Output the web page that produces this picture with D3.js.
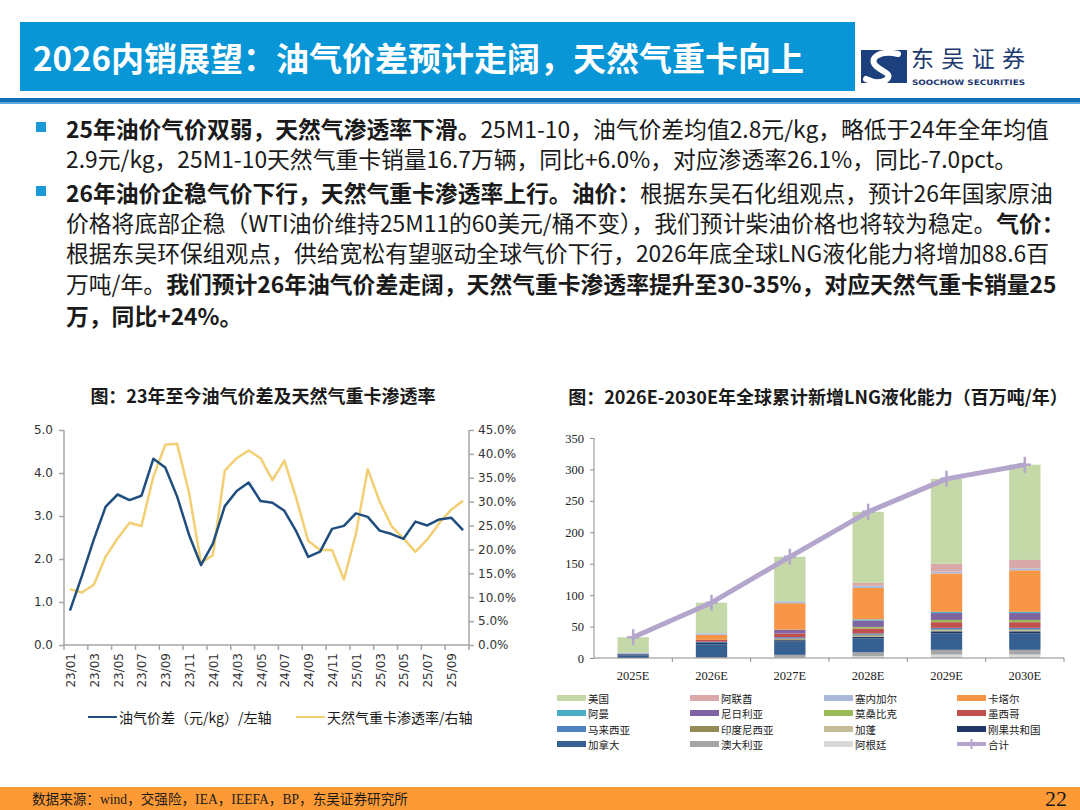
<!DOCTYPE html>
<html>
<head>
<meta charset="utf-8">
<title>2026内销展望</title>
<style>
  body { margin: 0; background: #fff; }
  svg { display: block; }
</style>
</head>
<body>
<script src="https://d3js.org/d3.v7.min.js"></script>
<script>
// ---- left chart: oil-gas price spread & gas heavy truck penetration ----
const months = ["23/01","23/02","23/03","23/04","23/05","23/06","23/07","23/08","23/09","23/10","23/11","23/12",
                "24/01","24/02","24/03","24/04","24/05","24/06","24/07","24/08","24/09","24/10","24/11","24/12",
                "25/01","25/02","25/03","25/04","25/05","25/06","25/07","25/08","25/09","25/10"];
const spread = [0.80,1.60,2.45,3.22,3.50,3.37,3.47,4.33,4.13,3.45,2.56,1.86,
                2.36,3.23,3.58,3.78,3.35,3.31,3.12,2.64,2.05,2.17,2.70,2.77,
                3.06,2.98,2.66,2.58,2.47,2.87,2.78,2.92,2.96,2.67];
const penetration = [0.117,0.110,0.126,0.185,0.223,0.256,0.249,0.352,0.419,0.421,0.318,0.172,
                     0.188,0.365,0.391,0.407,0.391,0.345,0.386,0.307,0.218,0.199,0.199,0.137,
                     0.232,0.368,0.300,0.249,0.223,0.195,0.221,0.255,0.283,0.302];
const leftTicks = [0,1,2,3,4,5];
const rightTicks = [0,0.05,0.10,0.15,0.20,0.25,0.30,0.35,0.40,0.45];

// ---- right chart: cumulative new LNG liquefaction capacity (Mt/yr) ----
const years = ["2025E","2026E","2027E","2028E","2029E","2030E"];
// stack order, bottom to top
const countries = ["阿根廷","澳大利亚","加拿大","刚果共和国","加蓬","印度尼西亚","马来西亚","墨西哥",
                   "莫桑比克","尼日利亚","阿曼","卡塔尔","塞内加尔","阿联酋","美国"];
const argentina  = [0,   0,   1,   3,   5.5, 5.5];
const australia  = [0,   1.5, 4,   6,   7.5, 7.5];
const canada     = [4,   20,  21,  22,  26,  26];
const congo      = [2,   2.4, 2.4, 3,   3.5, 3.5];
const gabon      = [0,   0,   0.7, 1.5, 1.5, 1.5];
const indonesia  = [0,   0,   2,   1.5, 1.5, 1.5];
const malaysia   = [0,   2,   2,   2,   2.5, 2.5];
const mexico     = [0,   3,   6,   8,   9,   9];
const mozambique = [0,   0,   0,   2.5, 3.5, 3.5];
const nigeria    = [0,   0,   6,   10,  11,  11];
const oman       = [0,   0,   0,   2,   2,   2];
const qatar      = [0,   8,   42,  50,  61,  66];
const senegal    = [2.5, 2.5, 3,   3.5, 3,   3];
const uae        = [0,   0,   0,   4.5, 12.5, 13.5];
const usa        = [24.5,48.6,70.9,113, 135, 151.5];
const capacityRows = [argentina, australia, canada, congo, gabon, indonesia, malaysia, mexico,
                      mozambique, nigeria, oman, qatar, senegal, uae, usa];
const countryColors = ["#d9d9d9","#a6a6a6","#376092","#1f3864","#c4bd97","#948a54","#4f81bd","#c0504d",
                       "#9bbb59","#8064a2","#4bacc6","#f79646","#a9b9d9","#d9a9aa","#c5d8a8"];
const capTicks = [0,50,100,150,200,250,300,350];

const W = 1080, H = 810;
const svg = d3.select("body").append("svg").attr("width", W).attr("height", H);
const CJK = "'Noto Sans CJK SC', sans-serif";
const SERIF = "'Liberation Serif', 'Noto Sans CJK SC', serif";

// ---------------- header ----------------
svg.append("rect").attr("x", 20).attr("y", 22).attr("width", 835).attr("height", 69).attr("fill", "#0996d6");
svg.append("text").attr("x", 33).attr("y", 57).attr("dominant-baseline", "central")
  .attr("font-family", CJK).attr("font-weight", "bold").attr("font-size", 33).attr("fill", "#fff")
  .text("2026内销展望：油气价差预计走阔，天然气重卡向上");

// logo
const logo = svg.append("g");
logo.append("path").attr("d", "M861,50 H907 V83 H861 Z").attr("fill", "#1c3f7d");
logo.append("path").attr("d", "M898,54 C880,50 868,58 876,66 C884,73 893,74 886,80 C880,84 872,82 866,79")
  .attr("fill", "none").attr("stroke", "#fff").attr("stroke-width", 6).attr("stroke-linecap", "round");
logo.append("text").attr("x", 911).attr("y", 67).attr("font-family", CJK).attr("font-size", 23)
  .attr("fill", "#1c3a70").attr("textLength", 114).text("东吴证券");
logo.append("text").attr("x", 912).attr("y", 85).attr("font-family", "'DejaVu Sans', sans-serif")
  .attr("font-size", 7.5).attr("font-weight", "bold").attr("fill", "#1c3a70")
  .attr("textLength", 113).attr("lengthAdjust", "spacingAndGlyphs").text("SOOCHOW SECURITIES");

svg.append("rect").attr("x", 0).attr("y", 98).attr("width", W).attr("height", 4).attr("fill", "#0f6fb8");
svg.append("rect").attr("x", 0).attr("y", 102).attr("width", W).attr("height", 2).attr("fill", "#5aa8dc");

// ---------------- paragraph ----------------
const paraLines = [
  { y: 128, bullet: true, segs: [["25年油价气价双弱，天然气渗透率下滑。", true], ["25M1-10，油气价差均值2.8元/kg，略低于24年全年均值", false]] },
  { y: 158, segs: [["2.9元/kg，25M1-10天然气重卡销量16.7万辆，同比+6.0%，对应渗透率26.1%，同比-7.0pct。", false]] },
  { y: 192, bullet: true, segs: [["26年油价企稳气价下行，天然气重卡渗透率上行。油价：", true], ["根据东吴石化组观点，预计26年国家原油", false]] },
  { y: 222, segs: [["价格将底部企稳（WTI油价维持25M11的60美元/桶不变），我们预计柴油价格也将较为稳定。", false], ["气价：", true]] },
  { y: 252, segs: [["根据东吴环保组观点，供给宽松有望驱动全球气价下行，2026年底全球LNG液化能力将增加88.6百", false]] },
  { y: 283, segs: [["万吨/年。", false], ["我们预计26年油气价差走阔，天然气重卡渗透率提升至30-35%，对应天然气重卡销量25", true]] },
  { y: 315, segs: [["万，同比+24%。", true]] }
];
paraLines.forEach(l => {
  if (l.bullet) {
    svg.append("rect").attr("x", 36).attr("y", l.y - 6).attr("width", 10).attr("height", 10).attr("fill", "#1a9ad6");
  }
  const t = svg.append("text").attr("x", 66).attr("y", l.y).attr("dominant-baseline", "central")
    .attr("font-family", CJK).attr("font-size", 22.8).attr("fill", "#1a1a1a");
  l.segs.forEach(s => t.append("tspan").attr("font-weight", s[1] ? "bold" : "normal").text(s[0]));
});

// ---------------- left chart ----------------
const gL = svg.append("g");
gL.append("text").attr("x", 263).attr("y", 395).attr("text-anchor", "middle").attr("dominant-baseline", "central")
  .attr("font-family", CJK).attr("font-weight", "bold").attr("font-size", 18).attr("fill", "#1a1a1a")
  .text("图：23年至今油气价差及天然气重卡渗透率");

const xL = d3.scaleBand().domain(months).range([64, 469]);
const yL = d3.scaleLinear().domain([0, 5]).range([645, 430]);
const yR = d3.scaleLinear().domain([0, 0.45]).range([645, 430]);
const AX = "#a6a6a6";

const axL = gL.append("g").attr("transform", "translate(64,0)")
  .call(d3.axisLeft(yL).tickValues(leftTicks).tickFormat(d3.format(".1f")).tickSize(5).tickPadding(6));
const axR = gL.append("g").attr("transform", "translate(469,0)")
  .call(d3.axisRight(yR).tickValues(rightTicks).tickFormat(d3.format(".1%")).tickSize(5).tickPadding(4));
[axL, axR].forEach(a => {
  a.selectAll("path,line").attr("stroke", AX).attr("stroke-width", 1.5);
  a.selectAll("text").attr("font-family", "'DejaVu Sans', sans-serif").attr("font-size", 12).attr("fill", "#333");
});
axL.select(".domain").attr("d", `M0,${yL(5)}V${yL(0)}`);
axR.select(".domain").attr("d", `M0,${yR(0.45)}V${yR(0)}`);

// bottom axis: ticks every two months on band boundaries
gL.append("line").attr("x1", 64).attr("x2", 469).attr("y1", 645).attr("y2", 645).attr("stroke", AX).attr("stroke-width", 1.5);
const tickMonths = months.filter((m, i) => i % 2 === 0);
gL.selectAll(".xt").data(tickMonths).join("line")
  .attr("x1", d => xL(d)).attr("x2", d => xL(d)).attr("y1", 645).attr("y2", 650)
  .attr("stroke", AX).attr("stroke-width", 1.5);
gL.append("line").attr("x1", 469).attr("x2", 469).attr("y1", 645).attr("y2", 650).attr("stroke", AX).attr("stroke-width", 1.5);
gL.selectAll(".xl").data(tickMonths).join("text")
  .attr("transform", d => `translate(${xL(d) + xL.bandwidth() / 2 + 1},653) rotate(-90)`)
  .attr("text-anchor", "end").attr("dominant-baseline", "central")
  .attr("font-family", "'DejaVu Sans', sans-serif").attr("font-size", 12).attr("fill", "#333")
  .text(d => d);

const cx = (d, i) => xL(months[i]) + xL.bandwidth() / 2;
gL.append("path").datum(penetration)
  .attr("d", d3.line().x(cx).y(d => yR(d)))
  .attr("fill", "none").attr("stroke", "#f3cf73").attr("stroke-width", 2.5).attr("stroke-linejoin", "round");
gL.append("path").datum(spread)
  .attr("d", d3.line().x(cx).y(d => yL(d)))
  .attr("fill", "none").attr("stroke", "#1f4e7e").attr("stroke-width", 2.5).attr("stroke-linejoin", "round");

// legend
const legL = [
  { x: 88, color: "#1f4e7e", label: "油气价差（元/kg）/左轴" },
  { x: 296, color: "#f3cf73", label: "天然气重卡渗透率/右轴" }
];
legL.forEach(l => {
  gL.append("line").attr("x1", l.x).attr("x2", l.x + 29).attr("y1", 717).attr("y2", 717)
    .attr("stroke", l.color).attr("stroke-width", 2);
  gL.append("text").attr("x", l.x + 31).attr("y", 717).attr("dominant-baseline", "central")
    .attr("font-family", CJK).attr("font-size", 14).attr("fill", "#1a1a1a").text(l.label);
});

// ---------------- right chart ----------------
const gR = svg.append("g");
gR.append("text").attr("x", 818).attr("y", 396).attr("text-anchor", "middle").attr("dominant-baseline", "central")
  .attr("font-family", CJK).attr("font-weight", "bold").attr("font-size", 18).attr("fill", "#1a1a1a")
  .text("图：2026E-2030E年全球累计新增LNG液化能力（百万吨/年）");

const xB = d3.scaleBand().domain(years).range([594, 1064]).paddingInner(0.6).paddingOuter(0.3);
const yC = d3.scaleLinear().domain([0, 350]).range([658, 438]);

const table = years.map((yr, j) => {
  const row = { year: yr };
  countries.forEach((c, k) => { row[c] = capacityRows[k][j]; });
  return row;
});
const series = d3.stack().keys(countries)(table);

gR.selectAll(".layer").data(series).join("g")
  .attr("fill", (d, i) => countryColors[i])
  .selectAll("rect").data(d => d).join("rect")
  .attr("x", d => xB(d.data.year)).attr("width", xB.bandwidth())
  .attr("y", d => yC(d[1])).attr("height", d => Math.max(0, yC(d[0]) - yC(d[1])));

const axC = gR.append("g").attr("transform", "translate(594,0)")
  .call(d3.axisLeft(yC).tickValues(capTicks).tickSize(4).tickPadding(6));
axC.selectAll("path,line").attr("stroke", "#8c8c8c");
axC.select(".domain").attr("d", `M0,${yC(350)}V${yC(0)}`);
axC.selectAll("text").attr("font-family", SERIF).attr("font-size", 12.5).attr("fill", "#222");

gR.append("line").attr("x1", 594).attr("x2", 1064).attr("y1", 658).attr("y2", 658).attr("stroke", "#8c8c8c");
const step = xB.step();
d3.range(1, years.length + 1).forEach(k => {
  gR.append("line").attr("x1", 594 + k * step).attr("x2", 594 + k * step).attr("y1", 658).attr("y2", 662).attr("stroke", "#8c8c8c");
});
gR.selectAll(".yl").data(years).join("text")
  .attr("x", d => xB(d) + xB.bandwidth() / 2).attr("y", 676).attr("text-anchor", "middle").attr("dominant-baseline", "central")
  .attr("font-family", SERIF).attr("font-size", 12.5).attr("fill", "#222").text(d => d);

// total line
const totals = table.map(r => ({ year: r.year, v: d3.sum(countries, c => r[c]) }));
const lineColor = "#b4a5cc";
gR.append("path").datum(totals)
  .attr("d", d3.line().x(d => xB(d.year) + xB.bandwidth() / 2).y(d => yC(d.v)))
  .attr("fill", "none").attr("stroke", lineColor).attr("stroke-width", 5).attr("stroke-linejoin", "round");
gR.selectAll(".mk").data(totals).join("path")
  .attr("transform", d => `translate(${xB(d.year) + xB.bandwidth() / 2},${yC(d.v)})`)
  .attr("d", "M-6,0H6M0,-8V8").attr("stroke", lineColor).attr("stroke-width", 2.5);

// legend (4 columns, read top of stack first)
const legendItems = countries.slice().reverse().map(c => ({ name: c, color: countryColors[countries.indexOf(c)] }));
legendItems.push({ name: "合计", color: lineColor, line: true });
const colX = [557, 690, 824, 957];
const rowY = [698, 713, 729, 744];
legendItems.forEach((it, i) => {
  const x = colX[i % 4], y = rowY[Math.floor(i / 4)];
  if (it.line) {
    gR.append("line").attr("x1", x).attr("x2", x + 29).attr("y1", y).attr("y2", y).attr("stroke", it.color).attr("stroke-width", 4);
    gR.append("path").attr("d", `M${x + 14.5},${y - 5}V${y + 5}`).attr("stroke", it.color).attr("stroke-width", 2);
  } else {
    gR.append("rect").attr("x", x).attr("y", y - 3).attr("width", 29).attr("height", 6).attr("fill", it.color);
  }
  gR.append("text").attr("x", x + 31).attr("y", y).attr("dominant-baseline", "central")
    .attr("font-family", CJK).attr("font-size", 10.5).attr("fill", "#222").text(it.name);
});

// ---------------- footer ----------------
svg.append("rect").attr("x", 0).attr("y", 787).attr("width", W).attr("height", 23).attr("fill", "#fd9a35");
svg.append("text").attr("x", 32).attr("y", 799).attr("dominant-baseline", "central")
  .attr("font-family", SERIF).attr("font-size", 13.6).attr("fill", "#1a1a1a")
  .text("数据来源：wind，交强险，IEA，IEEFA，BP，东吴证券研究所");
svg.append("text").attr("x", 1067).attr("y", 798).attr("text-anchor", "end").attr("dominant-baseline", "central")
  .attr("font-family", SERIF).attr("font-size", 22).attr("fill", "#1a1a1a").text("22");
</script>
</body>
</html>
